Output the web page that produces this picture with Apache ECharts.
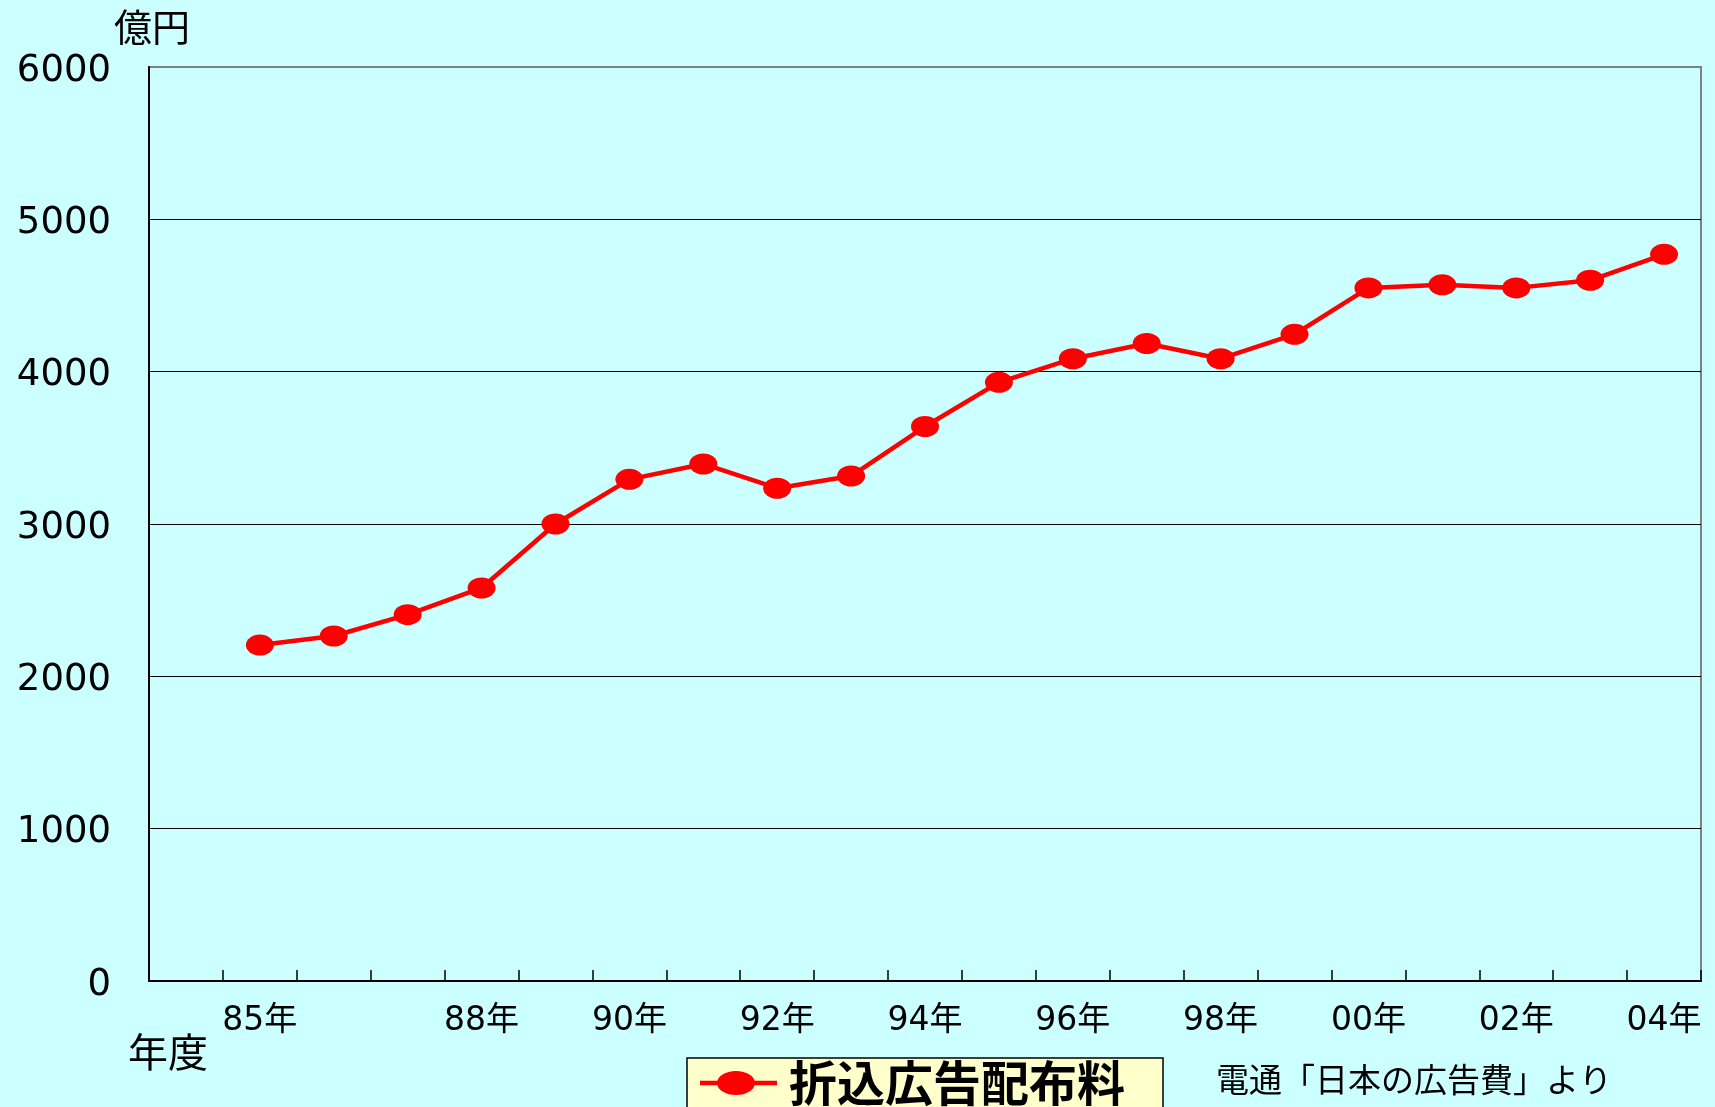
<!DOCTYPE html>
<html lang="ja">
<head>
    <meta charset="UTF-8">
    <title>折込広告配布料</title>
    <script src="https://cdn.jsdelivr.net/npm/echarts@6/dist/echarts.min.js"></script>
    <style>
        html, body { margin: 0; padding: 0; background: #ccffff; }
        #chart { width: 1715px; height: 1107px; }
    </style>
</head>
<body>
<div id="chart"></div>
<script type="text/javascript">
    // 先頭の空き枠 + 85年〜04年
    var years = ['', '85年', '86年', '87年', '88年', '89年', '90年', '91年', '92年', '93年', '94年',
        '95年', '96年', '97年', '98年', '99年', '00年', '01年', '02年', '03年', '04年'];
    var shownYears = ['85年', '88年', '90年', '92年', '94年', '96年', '98年', '00年', '02年', '04年'];
    var haikuryo = ['-', 2205, 2265, 2405, 2580, 3000, 3293, 3394, 3235, 3315, 3640,
        3930, 4085, 4185, 4085, 4245, 4550, 4570, 4550, 4600, 4770];
    var yTicks = [0, 1000, 2000, 3000, 4000, 5000, 6000];

    var latin = 'DejaVu Sans, Noto Sans CJK JP';
    var cjk = 'Noto Sans CJK JP';
    var ellipse = 'path://M0 50 A50 50 0 1 1 100 50 A50 50 0 1 1 0 50 Z';
    // 凡例アイコン：線＋楕円
    var legendIcon = 'path://M0 9.7 L77 9.7 L77 14.3 L0 14.3 Z M17 12 A19 12 0 1 1 55 12 A19 12 0 1 1 17 12 Z';

    var chart = echarts.init(document.getElementById('chart'));
    var option = {
        backgroundColor: '#ccffff',
        animation: false,
        title: [{
            text: '年度',
            left: 128, top: 1032, padding: 0,
            textStyle: { fontFamily: cjk, fontSize: 40, fontWeight: 'normal', color: '#000' }
        }, {
            text: '電通「日本の広告費」より',
            left: 1216, top: 1063, padding: 0,
            textStyle: { fontFamily: cjk, fontSize: 33, fontWeight: 'normal', color: '#000' }
        }],
        legend: {
            data: [{ name: '折込広告配布料', icon: legendIcon }],
            left: 687, top: 1058,
            orient: 'horizontal',
            itemWidth: 77, itemHeight: 24,
            padding: [1, 38, 40, 13],
            backgroundColor: '#ffffcc',
            borderColor: '#000', borderWidth: 1.5, borderRadius: 0,
            textStyle: { fontFamily: cjk, fontSize: 48, fontWeight: 'bold', color: '#000', padding: [0, 0, 0, 7] }
        },
        grid: {
            left: 149, top: 67, right: 14, bottom: 126,
            show: true, backgroundColor: 'transparent',
            borderColor: '#808080', borderWidth: 2
        },
        xAxis: {
            type: 'category',
            data: years,
            boundaryGap: true,
            axisLine: { lineStyle: { color: '#000', width: 2 } },
            axisTick: { show: true, inside: true, length: 11, interval: 0, lineStyle: { color: '#000', width: 1.5 } },
            axisLabel: {
                interval: function (i, v) { return shownYears.indexOf(v) >= 0; },
                margin: 24,
                fontFamily: latin, fontSize: 33, color: '#000'
            },
            splitLine: { show: false }
        },
        yAxis: {
            type: 'value',
            min: yTicks[0], max: yTicks[yTicks.length - 1], interval: 1000,
            name: '億円',
            nameLocation: 'end',
            nameGap: 40,
            nameTextStyle: { fontFamily: cjk, fontSize: 38, color: '#000', align: 'center', verticalAlign: 'middle', padding: [0, 0, 0, 6] },
            axisLine: { show: true, lineStyle: { color: '#000', width: 2 } },
            axisTick: { show: false },
            axisLabel: {
                margin: 38, color: '#000',
                formatter: function (v) { return '{n|' + v + '}'; },
                rich: {
                    n: { fontFamily: latin, fontSize: 37, color: '#000', padding: [8, 0, 0, 0] }
                }
            },
            splitLine: {
                show: true,
                lineStyle: { color: ['#000', '#000', '#000', '#000', '#000', '#000', '#808080'], width: 1.2 }
            }
        },
        series: [{
            name: '折込広告配布料',
            type: 'line',
            data: haikuryo,
            symbol: ellipse,
            symbolSize: [28, 21],
            itemStyle: { color: '#ff0000' },
            lineStyle: { color: '#ff0000', width: 4.5 },
            z: 5
        }]
    };
    chart.setOption(option);
</script>
</body>
</html>
